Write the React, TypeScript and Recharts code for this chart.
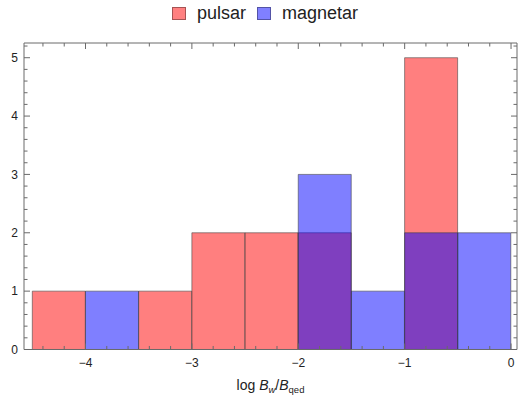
import { ComposedChart, Bar, XAxis, YAxis } from 'recharts';

// histogram bins of log Bw/Bqed, width 0.5
const bins = ['-4.5', '-4', '-3.5', '-3', '-2.5', '-2', '-1.5', '-1', '-0.5'];
const binCenters = [-4.25, -3.75, -3.25, -2.75, -2.25, -1.75, -1.25, -0.75, -0.25];
const pulsar = [1, 0, 1, 2, 2, 2, 0, 5, 0];
const magnetar = [0, 1, 0, 0, 0, 3, 1, 2, 2];

const xTicks = [-4, -3, -2, -1, 0];
const xMinorTicks = [
  -4.4, -4.2, -3.8, -3.6, -3.4, -3.2, -2.8, -2.6, -2.4, -2.2,
  -1.8, -1.6, -1.4, -1.2, -0.8, -0.6, -0.4, -0.2,
];
const yTicks = [0, 1, 2, 3, 4, 5];
const yMinorTicks = [
  0.2, 0.4, 0.6, 0.8, 1.2, 1.4, 1.6, 1.8, 2.2, 2.4, 2.6, 2.8,
  3.2, 3.4, 3.6, 3.8, 4.2, 4.4, 4.6, 4.8, 5.2,
];

const seriesNames = ['pulsar', 'magnetar'];
const seriesColors = ['rgb(255,0,0)', 'rgb(0,0,255)'];
const swatchColors = ['rgb(255,128,128)', 'rgb(128,128,255)'];

const data = bins.map((bin, i) => ({
  bin,
  center: binCenters[i],
  pulsar: pulsar[i],
  magnetar: magnetar[i],
}));

const X_DOMAIN: [number, number] = [-4.578, 0.056];
const Y_DOMAIN: [number, number] = [0, 5.252];
const FRAME = '#6a6a6a';
const FONT = '"Liberation Sans", Arial, sans-serif';
const THIN = 0.01; // axes need a non-zero size to be drawn

const fmt = (v: number) => (v < 0 ? `\u2212${Math.abs(v)}` : `${v}`);
const blank = () => '';

function AxisTitle(props: any) {
  const vb = props.viewBox || {};
  const cx = (vb.x || 0) + (vb.width || 0) / 2;
  return (
    <text x={cx} y={390} textAnchor="middle" fontFamily={FONT} fontSize={14} fill="#222">
      <tspan>log </tspan>
      <tspan fontStyle="italic">B</tspan>
      <tspan fontStyle="italic" fontSize={9.5} dy={3}>w</tspan>
      <tspan dy={-3}>/</tspan>
      <tspan fontStyle="italic">B</tspan>
      <tspan fontSize={9.5} dy={3}>qed</tspan>
    </text>
  );
}

// tick-only axes: ticks point into the plot, no labels
const tickOnlyX = { dataKey: 'center', type: 'number' as const, domain: X_DOMAIN, allowDataOverflow: true,
  interval: 0, height: THIN, mirror: true, tickFormatter: blank, tick: { fontSize: 1, fill: 'none' },
  tickLine: { stroke: FRAME } };
const tickOnlyY = { type: 'number' as const, domain: Y_DOMAIN, allowDataOverflow: true,
  interval: 0, width: THIN, mirror: true, tickFormatter: blank, tick: { fontSize: 1, fill: 'none' },
  tickLine: { stroke: FRAME } };

export default function App() {
  return (
    <div style={{ position: 'absolute', left: 0, top: 0, width: 519, height: 401, background: '#fff' }}>
      <div
        style={{
          position: 'absolute',
          left: 172,
          top: 3,
          display: 'flex',
          alignItems: 'center',
          fontFamily: FONT,
          fontSize: 18,
          color: '#222',
          whiteSpace: 'nowrap',
        }}
      >
        {seriesNames.map((name, i) => (
          <span key={name} style={{ display: 'flex', alignItems: 'center', marginRight: i === 0 ? 11 : 0 }}>
            <span
              style={{
                display: 'inline-block',
                width: 12,
                height: 11,
                backgroundColor: swatchColors[i],
                border: '1px solid rgba(0,0,0,0.35)',
                marginRight: 11,
              }}
            />
            {name}
          </span>
        ))}
      </div>
      <ComposedChart
        width={519}
        height={401}
        data={data}
        margin={{ top: 43, right: 2, bottom: 51.5, left: 24 }}
        barCategoryGap={0}
        barGap={0}
      >
        {/* category axes that carry the bars, one per series so they overlap */}
        <XAxis xAxisId="p" dataKey="bin" type="category" hide height={THIN} padding={{ left: 8.3, right: 6 }} />
        <XAxis xAxisId="m" dataKey="bin" type="category" hide height={THIN} padding={{ left: 8.3, right: 6 }} />
        <YAxis
          yAxisId="l"
          type="number"
          domain={Y_DOMAIN}
          allowDataOverflow
          ticks={yTicks}
          interval={0}
          width={THIN}
          tickLine={false}
          tickSize={0}
          tickMargin={6}
          axisLine={{ stroke: FRAME }}
          tick={{ fontSize: 12, fill: '#222', fontFamily: FONT }}
        />
        <Bar
          xAxisId="p"
          yAxisId="l"
          dataKey="pulsar"
          fill={seriesColors[0]}
          fillOpacity={0.5}
          stroke="rgb(60,60,60)"
          strokeOpacity={0.55}
          strokeWidth={1}
          isAnimationActive={false}
        />
        <Bar
          xAxisId="m"
          yAxisId="l"
          dataKey="magnetar"
          fill={seriesColors[1]}
          fillOpacity={0.5}
          stroke="rgb(60,60,60)"
          strokeOpacity={0.55}
          strokeWidth={1}
          isAnimationActive={false}
        />

        {/* numeric frame axes */}
        <XAxis
          xAxisId="n"
          dataKey="center"
          type="number"
          domain={X_DOMAIN}
          allowDataOverflow
          ticks={xTicks}
          interval={0}
          height={THIN}
          tickFormatter={fmt}
          tickLine={false}
          tickSize={0}
          tickMargin={9}
          axisLine={{ stroke: FRAME }}
          tick={{ fontSize: 12, fill: '#222', fontFamily: FONT }}
          label={<AxisTitle />}
        />
        <XAxis xAxisId="nb1" {...tickOnlyX} ticks={xTicks} axisLine={false} tickSize={6} />
        <XAxis xAxisId="nb2" {...tickOnlyX} ticks={xMinorTicks} axisLine={false} tickSize={3.5} />
        <XAxis xAxisId="nt1" orientation="top" {...tickOnlyX} ticks={xTicks} axisLine={{ stroke: FRAME }} tickSize={6} />
        <XAxis xAxisId="nt2" orientation="top" {...tickOnlyX} ticks={xMinorTicks} axisLine={false} tickSize={3.5} />
        <YAxis yAxisId="yl1" {...tickOnlyY} ticks={yTicks} axisLine={false} tickSize={6} />
        <YAxis yAxisId="yl2" {...tickOnlyY} ticks={yMinorTicks} axisLine={false} tickSize={3.5} />
        <YAxis yAxisId="yr1" orientation="right" {...tickOnlyY} ticks={yTicks} axisLine={{ stroke: FRAME }} tickSize={6} />
        <YAxis yAxisId="yr2" orientation="right" {...tickOnlyY} ticks={yMinorTicks} axisLine={false} tickSize={3.5} />
      </ComposedChart>
    </div>
  );
}
